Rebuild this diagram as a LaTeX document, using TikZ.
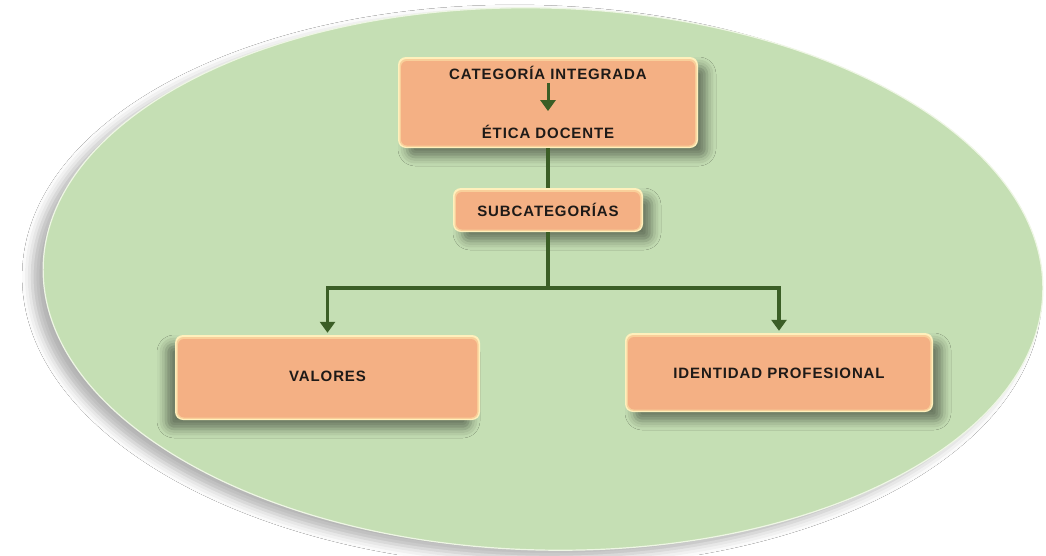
\documentclass[tikz,border=0pt]{standalone}
\usepackage{fontspec}
\setmainfont{Liberation Sans}
\newfontfamily\boxfont[LetterSpace=6]{Liberation Sans}
\usetikzlibrary{shadows.blur, arrows.meta}

\definecolor{ovalfill}{HTML}{C5DFB4}
\definecolor{ovalrim}{HTML}{EEF6E4}
\definecolor{boxfill}{HTML}{F4B084}
\definecolor{boxmid}{HTML}{F9CF9A}
\definecolor{boxglow}{HTML}{FFF0BC}
\definecolor{linkc}{HTML}{3B5E26}
\definecolor{inkc}{HTML}{1E1A18}

\tikzset{
  oval/.style={fill=ovalfill, draw=ovalrim, line width=1.2pt,
    blur shadow={shadow xshift=-11pt, shadow yshift=-7pt,
      shadow blur radius=10pt, shadow opacity=30}},
  catbox/.style={rectangle, rounded corners=8pt, inner sep=0pt,
    fill=boxglow,
    path picture={
      \fill[boxmid, rounded corners=7pt]
        ([xshift=1.5pt,yshift=-2pt]path picture bounding box.north west)
        rectangle ([xshift=-1.5pt,yshift=1.2pt]path picture bounding box.south east);
      \fill[boxfill, rounded corners=6pt]
        ([xshift=3pt,yshift=-4pt]path picture bounding box.north west)
        rectangle ([xshift=-3pt,yshift=2.5pt]path picture bounding box.south east);}},
  shadeR/.style={blur shadow={shadow xshift=9pt, shadow yshift=-9pt,
      shadow blur radius=9pt, shadow opacity=45}},
  shadeL/.style={blur shadow={shadow xshift=-9pt, shadow yshift=-9pt,
      shadow blur radius=9pt, shadow opacity=45}},
  label/.style={inner sep=0pt, text=inkc,
    font=\boxfont\bfseries\fontsize{15}{17}\selectfont},
  link/.style={draw=linkc, line width=3.6pt, line join=miter},
  tip/.style={-{Triangle[width=15pt,length=11pt]}},
}

\begin{document}
\begin{tikzpicture}[x=1pt, y=-1pt]
  % page frame
  \fill[white] (0,0) rectangle (1046,555);
  \useasboundingbox (0,0) rectangle (1046,555);

  % green oval backdrop
  \path[oval, rotate around={-1.5:(543,279)}]
    (543,279) ellipse [x radius=500, y radius=271];

  % boxes
  \node[catbox, shadeR, minimum width=300pt, minimum height=91pt] (cat) at (548,102.5) {};
  \node[catbox, shadeR, minimum width=190pt, minimum height=44pt] (sub) at (548,210) {};
  \node[catbox, shadeL, minimum width=305pt, minimum height=85pt] (val) at (327.5,377.5) {};
  \node[catbox, shadeR, minimum width=308pt, minimum height=79pt] (idp) at (779,372.5) {};

  % texts
  \node[label] (catA) at (548,73) {CATEGORÍA INTEGRADA};
  \node[label] (catB) at (548,132) {ÉTICA DOCENTE};
  \node[label] (subT) at (548,210) {SUBCATEGORÍAS};
  \node[label] (valT) at (327.5,376) {VALORES};
  \node[label] (idpT) at (779,373) {IDENTIDAD PROFESIONAL};

  % connectors
  \coordinate (split) at (548,288);
  \draw[link, tip, line width=3pt, shorten <=3pt, shorten >=14pt] (catA) -- (catB);
  \draw[link] (cat.south) -- (sub.north);
  \draw[link] (sub.south) -- (split);
  \draw[link, tip, shorten >=2pt] (split) -| (val.north);
  \draw[link, tip, shorten >=2pt] (split) -| (idp.north);
\end{tikzpicture}
\end{document}
